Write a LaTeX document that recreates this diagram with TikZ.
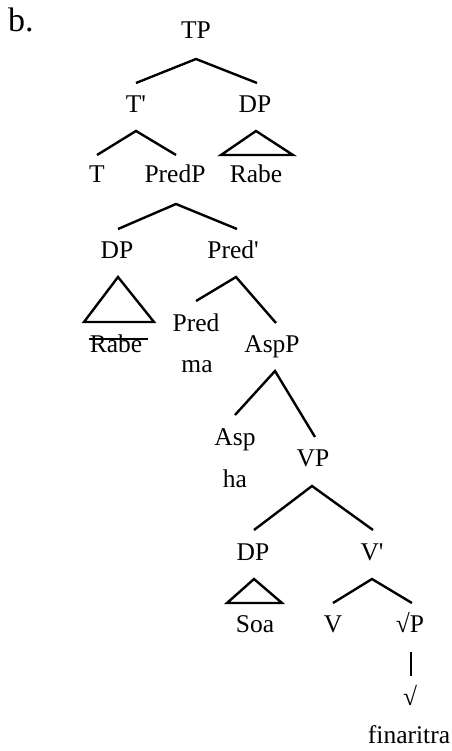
\documentclass[tikz,border=0pt]{standalone}
\usepackage{fontspec}
\setmainfont{Liberation Serif}[Ligatures=TeXOff]
\begin{document}
\begin{tikzpicture}[x=1pt,y=-1pt,
  lab/.style={anchor=base,inner sep=0pt,font=\fontsize{25.5}{30}\selectfont},
  br/.style={line width=2.4pt,line cap=butt},
  tri/.style={line width=2.4pt,line join=miter}]
\useasboundingbox (0,0) rectangle (451,751);
\node[anchor=base west,inner sep=0pt,font=\fontsize{34}{40}\selectfont] (lbl) at (8,32) {b.};
% labels
\node[lab] (TP) at (196,39) {TP};
\node[lab] (Tbar) at (136,113) {T'};
\node[lab] (DPa) at (255,113) {DP};
\node[lab] (T) at (97,183) {T};
\node[lab] (PredP) at (175,183) {PredP};
\node[lab] (Rabea) at (256,183) {Rabe};
\node[lab] (DPb) at (117,258) {DP};
\node[lab] (Predbar) at (233,258) {Pred'};
\node[lab] (Rabeb) at (116,352) {Rabe};
\node[lab] (Pred) at (196,331) {Pred};
\node[lab] (ma) at (197,372) {ma};
\node[lab] (AspP) at (272,352) {AspP};
\node[lab] (Asp) at (235,445) {Asp};
\node[lab] (ha) at (235,487) {ha};
\node[lab] (VP) at (313,466) {VP};
\node[lab] (DPc) at (253,560) {DP};
\node[lab] (Vbar) at (372,560) {V'};
\node[lab] (Soa) at (255,632) {Soa};
\node[lab] (V) at (333,632) {V};
\node[lab] (rootP) at (410,632) {√P};
\node[lab] (root) at (410,705) {√};
\node[lab] (fin) at (409,743) {finaritra};
% branch points
\coordinate (TPa) at (196,59);  \coordinate (TPl) at (136,83);  \coordinate (TPr) at (257,83);
\coordinate (Ta) at (136,131);  \coordinate (Tl) at (97,155);   \coordinate (Tr) at (176,155);
\coordinate (D1a) at (256,131); \coordinate (D1l) at (221,155); \coordinate (D1r) at (293,155);
\coordinate (Pa) at (176,204);  \coordinate (Pl) at (118,229);  \coordinate (Pr) at (237,229);
\coordinate (D2a) at (118,277); \coordinate (D2l) at (84,322);  \coordinate (D2r) at (154,322);
\coordinate (Qa) at (236,277);  \coordinate (Ql) at (196,301);  \coordinate (Qr) at (276,323);
\coordinate (Aa) at (275,371);  \coordinate (Al) at (235,415);  \coordinate (Ar) at (315,437);
\coordinate (Va) at (312,486);  \coordinate (Vl) at (254,530);  \coordinate (Vr) at (373,530);
\coordinate (D3a) at (254,579); \coordinate (D3l) at (227,603); \coordinate (D3r) at (282,603);
\coordinate (Wa) at (372,579);  \coordinate (Wl) at (333,603);  \coordinate (Wr) at (412,603);
\coordinate (Rt) at (411,652);  \coordinate (Rb) at (411,676);
\coordinate (Sl) at (89,339);   \coordinate (Sr) at (148,339);
% connectors
\draw[br] (TPl) -- (TPa) -- (TPr);
\draw[br] (Tl) -- (Ta) -- (Tr);
\draw[tri] (D1a) -- (D1l) -- (D1r) -- cycle;
\draw[br] (Pl) -- (Pa) -- (Pr);
\draw[tri] (D2a) -- (D2l) -- (D2r) -- cycle;
\draw[br] (Ql) -- (Qa) -- (Qr);
\draw[br] (Al) -- (Aa) -- (Ar);
\draw[br] (Vl) -- (Va) -- (Vr);
\draw[tri] (D3a) -- (D3l) -- (D3r) -- cycle;
\draw[br] (Wl) -- (Wa) -- (Wr);
\draw[line width=2.6pt] (Rt) -- (Rb);
\draw[line width=1.5pt] (Sl) -- (Sr);
\end{tikzpicture}
\end{document}
